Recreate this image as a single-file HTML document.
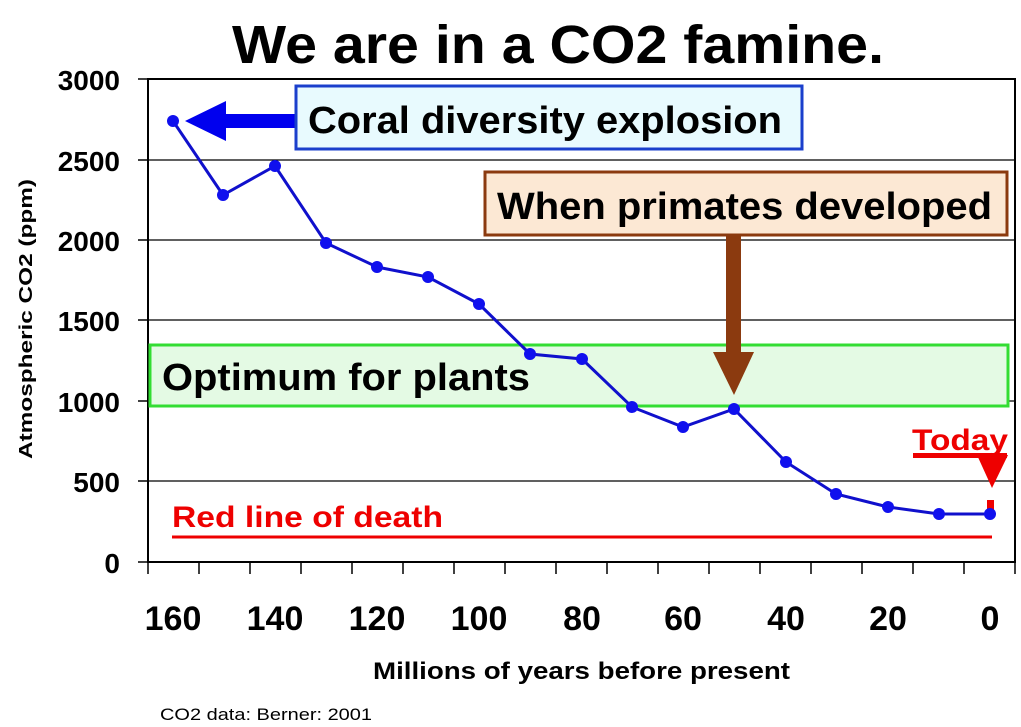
<!DOCTYPE html><html><head><style>body{margin:0;background:#fff}svg{display:block}text{font-family:"Liberation Sans",Arial,sans-serif}</style></head><body>
<svg width="1021" height="727" viewBox="0 0 1021 727">
<text x="232" y="63" font-size="54" font-weight="bold" textLength="652" lengthAdjust="spacingAndGlyphs">We are in a CO2 famine.</text>
<g stroke="#000" stroke-width="1.2">
<line x1="148" y1="160" x2="1015" y2="160"/><line x1="148" y1="240" x2="1015" y2="240"/><line x1="148" y1="320" x2="1015" y2="320"/><line x1="148" y1="401" x2="1015" y2="401"/><line x1="148" y1="481" x2="1015" y2="481"/>
</g>
<rect x="148" y="79" width="867" height="483" fill="none" stroke="#000" stroke-width="2"/>
<g stroke="#000" stroke-width="1.5">
<line x1="138" y1="79" x2="148" y2="79"/><line x1="138" y1="160" x2="148" y2="160"/><line x1="138" y1="240" x2="148" y2="240"/><line x1="138" y1="320" x2="148" y2="320"/><line x1="138" y1="401" x2="148" y2="401"/><line x1="138" y1="481" x2="148" y2="481"/><line x1="138" y1="562" x2="148" y2="562"/>
<path d="M148 562v12M199 562v12M250 562v12M301 562v12M352 562v12M403 562v12M454 562v12M505 562v12M556 562v12M607 562v12M658 562v12M709 562v12M760 562v12M811 562v12M862 562v12M913 562v12M964 562v12M1015 562v12"/>
</g>
<g font-size="28" font-weight="bold" text-anchor="end">
<text x="120" y="90">3000</text><text x="120" y="171">2500</text><text x="120" y="251">2000</text><text x="120" y="331">1500</text><text x="120" y="412">1000</text><text x="120" y="492">500</text><text x="120" y="573">0</text></g>
<g font-size="34" font-weight="bold" text-anchor="middle">
<text x="173" y="630">160</text><text x="275" y="630">140</text><text x="377" y="630">120</text><text x="479" y="630">100</text><text x="582" y="630">80</text><text x="683" y="630">60</text><text x="786" y="630">40</text><text x="888" y="630">20</text><text x="990" y="630">0</text></g>
<text x="373" y="679" font-size="24" font-weight="bold" textLength="417" lengthAdjust="spacingAndGlyphs">Millions of years before present</text>
<text x="160" y="720" font-size="17" textLength="212" lengthAdjust="spacingAndGlyphs">CO2 data: Berner: 2001</text>
<text transform="translate(32 459) rotate(-90)" font-size="18" font-weight="bold" textLength="280" lengthAdjust="spacingAndGlyphs">Atmospheric CO2 (ppm)</text>
<rect x="150" y="345" width="858" height="61" fill="#e4fae4" stroke="#33dd33" stroke-width="3"/>
<text x="162" y="390" font-size="38" font-weight="bold" textLength="368" lengthAdjust="spacingAndGlyphs">Optimum for plants</text>
<line x1="172" y1="537" x2="992" y2="537" stroke="#e00" stroke-width="3"/>
<text x="172" y="527" font-size="30" font-weight="bold" fill="#e00" textLength="271" lengthAdjust="spacingAndGlyphs">Red line of death</text>
<text x="912" y="450" font-size="30" font-weight="bold" fill="#e00" textLength="96" lengthAdjust="spacingAndGlyphs">Today</text>
<rect x="913" y="453" width="94" height="5" fill="#e00"/>
<polygon points="977,455 1008,455 992,488" fill="#e00"/>
<rect x="987" y="500" width="7" height="10" fill="#e00"/>
<polyline fill="none" stroke="#1010cc" stroke-width="3" points="173,121 223,195 275,166 326,243 377,267 428,277 479,304 530,354 582,359 632,407 683,427 734,409 786,462 836,494 888,507 939,514 990,514"/>
<g fill="#1010ee">
<circle cx="173" cy="121" r="6"/><circle cx="223" cy="195" r="6"/><circle cx="275" cy="166" r="6"/><circle cx="326" cy="243" r="6"/><circle cx="377" cy="267" r="6"/><circle cx="428" cy="277" r="6"/><circle cx="479" cy="304" r="6"/><circle cx="530" cy="354" r="6"/><circle cx="582" cy="359" r="6"/><circle cx="632" cy="407" r="6"/><circle cx="683" cy="427" r="6"/><circle cx="734" cy="409" r="6"/><circle cx="786" cy="462" r="6"/><circle cx="836" cy="494" r="6"/><circle cx="888" cy="507" r="6"/><circle cx="939" cy="514" r="6"/><circle cx="990" cy="514" r="6"/></g>
<polygon points="185,121 226,101 226,114 296,114 296,128 226,128 226,141" fill="#0000ee"/>
<rect x="296" y="86" width="506" height="63" fill="#e8fafe" stroke="#1a3fcc" stroke-width="3"/>
<text x="308" y="133" font-size="38" font-weight="bold" textLength="474" lengthAdjust="spacingAndGlyphs">Coral diversity explosion</text>
<rect x="485" y="172" width="522" height="63" fill="#fce8d4" stroke="#8b3a0f" stroke-width="3"/>
<text x="497" y="219" font-size="38" font-weight="bold" textLength="495" lengthAdjust="spacingAndGlyphs">When primates developed</text>
<rect x="726" y="235" width="15" height="118" fill="#8b3a0f"/>
<polygon points="713,352 754,352 734,395" fill="#8b3a0f"/>
</svg></body></html>
